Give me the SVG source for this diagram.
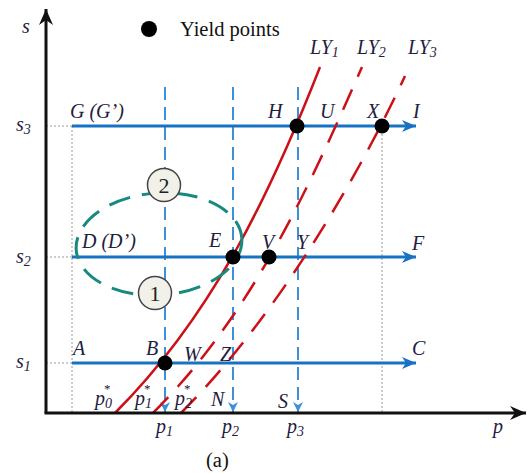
<svg xmlns="http://www.w3.org/2000/svg" width="527" height="473" viewBox="0 0 527 473">
<style>
.lbl{font-family:"Liberation Serif","Times New Roman","DejaVu Serif",serif;font-style:italic;font-size:20px;fill:#1e2040}
.sub{font-size:14px}
.up{font-size:13px;font-style:normal}
.plain{font-family:"Liberation Serif","Times New Roman","DejaVu Serif",serif;font-size:20.5px;fill:#111}
.num{font-family:"Liberation Serif","Times New Roman","DejaVu Serif",serif;font-size:22px;fill:#222;text-anchor:middle}
.guide{stroke:#9a9a9a;stroke-width:1;stroke-dasharray:2 2;fill:none}
.vd{stroke:#3d8fd8;stroke-width:2;stroke-dasharray:13 7;fill:none}
.hz{stroke:#1872c4;stroke-width:3;fill:none}
.red{stroke:#cc1018;stroke-width:2.5;fill:none}
.reddash{stroke:#cc1018;stroke-width:2.5;fill:none;stroke-dasharray:22 14}
.dot{fill:#000}
.axis{stroke:#111;stroke-width:3;fill:none}
</style>
<defs>
<marker id="ab" markerUnits="userSpaceOnUse" markerWidth="14" markerHeight="14" refX="14" refY="7" orient="auto"><path d="M0,1 L14,7 L0,13 L4,7 z" fill="#1872c4"/></marker>
<marker id="av" markerUnits="userSpaceOnUse" markerWidth="10" markerHeight="10" refX="10" refY="5" orient="auto"><path d="M0,0 L10,5 L0,10 L3,5 z" fill="#3d8fd8"/></marker>
<marker id="ak" markerUnits="userSpaceOnUse" markerWidth="16" markerHeight="14" refX="16" refY="7" orient="auto"><path d="M0,0 L16,7 L0,14 L5,7 z" fill="#111"/></marker>
</defs>
<g id="guides">
<line class="guide" x1="46" y1="126" x2="72" y2="126"/>
<line class="guide" x1="46" y1="257" x2="72" y2="257"/>
<line class="guide" x1="46" y1="363" x2="72" y2="363"/>
<line class="guide" x1="72" y1="126" x2="72" y2="413"/>
<line class="guide" x1="382" y1="126" x2="382" y2="413"/>
</g>
<g id="connectors">
<line class="vd" x1="165" y1="87" x2="165" y2="412" marker-end="url(#av)"/>
<line class="vd" x1="233" y1="87" x2="233" y2="412" marker-end="url(#av)"/>
<line class="vd" x1="298" y1="87" x2="298" y2="412" marker-end="url(#av)"/>
<line class="hz" x1="72" y1="126" x2="416" y2="126" marker-end="url(#ab)"/>
<line class="hz" x1="72" y1="257" x2="416" y2="257" marker-end="url(#ab)"/>
<line class="hz" x1="72" y1="363" x2="416" y2="363" marker-end="url(#ab)"/>
<path id="LY1" class="red" d="M115,413 C215,313 273,187 320,67"/>
<path id="LY2" class="reddash" d="M153,413 C253,313 309,187 362,67"/>
<path id="LY3" class="reddash" d="M181,413 C271,323 354,186 405,76"/>
<ellipse cx="159" cy="244" rx="83" ry="51" transform="rotate(-4 159 244)" fill="none" stroke="#178a80" stroke-width="3" stroke-dasharray="22 12"/>
</g>
<g id="axes">
<line class="axis" x1="46" y1="413" x2="46" y2="9" marker-end="url(#ak)"/>
<line class="axis" x1="44.5" y1="413" x2="526" y2="413" marker-end="url(#ak)"/>
</g>
<g id="loop-labels">
<g id="step2"><circle cx="164" cy="185" r="16.5" fill="#f1f1ea" stroke="#444" stroke-width="1.5"/><text class="num" x="164" y="193">2</text></g>
<g id="step1"><circle cx="155" cy="293" r="16.5" fill="#f1f1ea" stroke="#444" stroke-width="1.5"/><text class="num" x="155" y="301">1</text></g>
</g>
<g id="yield-points">
<circle id="H" class="dot" cx="297" cy="126" r="7.5"/>
<circle id="X" class="dot" cx="382" cy="126" r="7.5"/>
<circle id="E" class="dot" cx="233" cy="257" r="7.5"/>
<circle id="V" class="dot" cx="269" cy="257" r="7.5"/>
<circle id="B" class="dot" cx="165" cy="363" r="7.5"/>
</g>
<g id="legend">
<circle class="dot" cx="149" cy="29" r="8"/>
<text class="plain" x="180" y="36">Yield points</text>
</g>
<g id="labels">
<text class="lbl" x="22" y="33">s</text>
<text class="lbl" x="16" y="131">s<tspan class="sub" dy="3">3</tspan></text>
<text class="lbl" x="16" y="263">s<tspan class="sub" dy="3">2</tspan></text>
<text class="lbl" x="16" y="368">s<tspan class="sub" dy="3">1</tspan></text>
<text class="lbl" x="310" y="54">LY<tspan class="sub" dy="3">1</tspan></text>
<text class="lbl" x="357" y="54">LY<tspan class="sub" dy="3">2</tspan></text>
<text class="lbl" x="408" y="54">LY<tspan class="sub" dy="3">3</tspan></text>
<text class="lbl" x="70" y="118">G (G’)</text>
<text class="lbl" x="268" y="118">H</text>
<text class="lbl" x="320" y="118">U</text>
<text class="lbl" x="367" y="118">X</text>
<text class="lbl" x="413" y="118">I</text>
<text class="lbl" x="82" y="248">D (D’)</text>
<text class="lbl" x="209" y="247">E</text>
<text class="lbl" x="262" y="249">V</text>
<text class="lbl" x="297" y="249">Y</text>
<text class="lbl" x="412" y="250">F</text>
<text class="lbl" x="73" y="355">A</text>
<text class="lbl" x="146" y="355">B</text>
<text class="lbl" x="184" y="361">W</text>
<text class="lbl" x="220" y="361">Z</text>
<text class="lbl" x="412" y="355">C</text>
<text class="lbl" x="95" y="405">p<tspan class="sub" dy="3">0</tspan><tspan class="up" dx="-8" dy="-15">*</tspan></text>
<text class="lbl" x="135" y="405">p<tspan class="sub" dy="3">1</tspan><tspan class="up" dx="-8" dy="-15">*</tspan></text>
<text class="lbl" x="175" y="405">p<tspan class="sub" dy="3">2</tspan><tspan class="up" dx="-8" dy="-15">*</tspan></text>
<text class="lbl" x="211" y="406">N</text>
<text class="lbl" x="278" y="408">S</text>
<text class="lbl" x="156" y="433">p<tspan class="sub" dy="3">1</tspan></text>
<text class="lbl" x="222" y="433">p<tspan class="sub" dy="3">2</tspan></text>
<text class="lbl" x="287" y="433">p<tspan class="sub" dy="3">3</tspan></text>
<text class="lbl" x="493" y="433">p</text>
<text class="plain" x="206" y="467">(a)</text>
</g>
</svg>
